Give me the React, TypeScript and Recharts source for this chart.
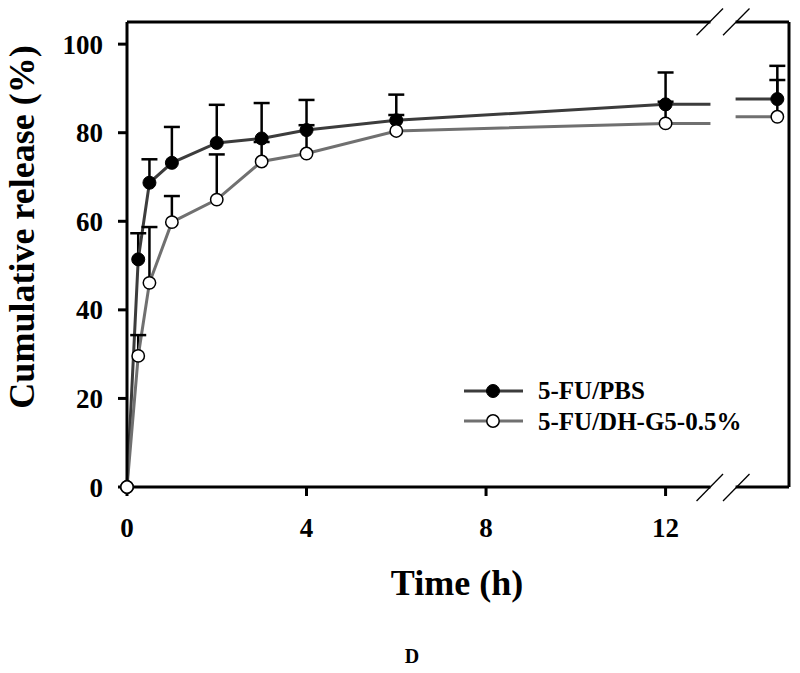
import React from 'react';
import { ComposedChart, Line, XAxis, YAxis, ReferenceLine, Label } from 'recharts';

const FONT = '"Liberation Serif", "Times New Roman", Times, serif';

// Sampling times (h) on the linear part of the axis
const hours = [0, 0.25, 0.5, 1, 2, 3, 4, 6, 12];
// 5-FU/PBS
const pbsMean = [0, 51.4, 68.7, 73.2, 77.7, 78.7, 80.6, 82.8, 86.4];
const pbsSD = [0, 5.9, 5.3, 8.1, 8.6, 8.0, 6.8, 5.8, 7.2];
// 5-FU/DH-G5-0.5%
const dhMean = [0, 29.6, 46.1, 59.8, 64.9, 73.5, 75.3, 80.4, 82.1];
const dhSD = [0, 4.7, 12.6, 5.9, 10.2, 4.4, 6.4, 3.6, 4.9];

// Final point, drawn after the axis break
const lastPos = 14.49;
const pbsLast = 87.6;
const pbsLastSD = 7.5;
const dhLast = 83.6;
const dhLastSD = 8.3;

// Axis break (in axis units)
const xMax = 14.75;
const yMax = 105;
const breakStart = 13.0;
const breakEnd = 13.56;
const slashX = [12.69, 13.28, 13.87];

const xTicks = [0, 4, 8, 12];
const yTicks = [0, 20, 40, 60, 80, 100];

const PBS_LINE = '#3c3c3c';
const DH_LINE = '#707070';

const mainData = hours.map((t, i) => ({ t, pbs: pbsMean[i], dh: dhMean[i] }));
const last = hours.length - 1;
const stubData = [
  { t: hours[last], pbs: pbsMean[last], dh: dhMean[last] },
  { t: breakStart, pbs: pbsMean[last], dh: dhMean[last] },
];
const afterData = [
  { t: breakEnd, pbs: pbsLast, dh: dhLast },
  { t: lastPos, pbs: pbsLast, dh: dhLast },
];
const lastData = [{ t: lastPos, pbs: pbsLast, dh: dhLast }];

// upward-only error bars: segment from mean to mean+SD, null separates bars
type EP = { t: number; v: number | null; cap?: boolean };
const errorSegments = (ts: number[], means: number[], sds: number[]): EP[] =>
  ts.flatMap((t, i) =>
    sds[i] > 0
      ? [
          { t, v: means[i] },
          { t, v: means[i] + sds[i], cap: true },
          { t, v: null },
        ]
      : []
  );
const pbsErrData = errorSegments([...hours, lastPos], [...pbsMean, pbsLast], [...pbsSD, pbsLastSD]);
const dhErrData = errorSegments([...hours, lastPos], [...dhMean, dhLast], [...dhSD, dhLastSD]);

const capDot = (props: any) => {
  const { cx, cy, payload, index } = props;
  if (!payload || !payload.cap || cx == null || cy == null) return <g key={`c${index}`} />;
  return <line key={`c${index}`} x1={cx - 8} x2={cx + 8} y1={cy} y2={cy} stroke="#000" strokeWidth={2.5} />;
};

const filledDot = { r: 6.5, fill: '#000', stroke: '#000', strokeWidth: 1 };
const openDot = { r: 6.2, fill: '#fff', stroke: '#000', strokeWidth: 1.5 };

const tickStyle = { fontSize: 27, fontWeight: 'bold' as const, fill: '#000', fontFamily: FONT };

const Extras = () => (
  <g fontFamily={FONT} fontWeight="bold" fill="#000">
    <text x={457} y={595} fontSize={36} textAnchor="middle">Time (h)</text>
    <text x={412} y={663} fontSize={20} textAnchor="middle">D</text>
    <text x={34} y={227} fontSize={36} textAnchor="middle" transform="rotate(-90 34 227)">
      Cumulative release (%)
    </text>
    <g>
      <line x1={464} y1={391} x2={523} y2={391} stroke={PBS_LINE} strokeWidth={3} />
      <circle cx={493} cy={391} r={6.5} fill="#000" stroke="#000" />
      <text x={538} y={399} fontSize={25}>5-FU/PBS</text>
      <line x1={464} y1={421} x2={523} y2={421} stroke={DH_LINE} strokeWidth={3} />
      <circle cx={493} cy={421} r={6.2} fill="#fff" stroke="#000" strokeWidth={1.5} />
      <text x={538} y={430} fontSize={25}>5-FU/DH-G5-0.5%</text>
    </g>
  </g>
);

const frame = { stroke: '#000', strokeWidth: 3 };
const slash = { stroke: '#000', strokeWidth: 1.3 };

export default function App() {
  return (
    <div style={{ position: 'absolute', left: 0, top: 0, background: '#fff' }}>
      <ComposedChart width={800} height={673} margin={{ top: 22, right: 11, bottom: 126, left: 0 }}>
        <XAxis
          type="number"
          dataKey="t"
          domain={[0, xMax]}
          ticks={xTicks}
          height={60}
          axisLine={false}
          tickLine={{ stroke: '#000', strokeWidth: 3 }}
          tickSize={9}
          tickMargin={22}
          tick={tickStyle}
        >
          <Label content={() => <Extras />} />
        </XAxis>
        <YAxis
          type="number"
          domain={[0, yMax]}
          ticks={yTicks}
          width={127}
          axisLine={{ stroke: '#000', strokeWidth: 3 }}
          tickLine={{ stroke: '#000', strokeWidth: 3 }}
          tickSize={9}
          tickMargin={15}
          tick={tickStyle}
        />
        {/* frame with axis break */}
        <ReferenceLine segment={[{ x: 0, y: 0 }, { x: breakStart, y: 0 }]} {...frame} ifOverflow="visible" />
        <ReferenceLine segment={[{ x: breakEnd, y: 0 }, { x: xMax, y: 0 }]} {...frame} ifOverflow="visible" />
        <ReferenceLine segment={[{ x: 0, y: yMax }, { x: breakStart, y: yMax }]} {...frame} ifOverflow="visible" />
        <ReferenceLine segment={[{ x: breakEnd, y: yMax }, { x: xMax, y: yMax }]} {...frame} ifOverflow="visible" />
        <ReferenceLine segment={[{ x: xMax, y: 0 }, { x: xMax, y: yMax }]} {...frame} ifOverflow="visible" />
        <ReferenceLine segment={[{ x: slashX[0], y: yMax - 3 }, { x: slashX[1], y: yMax + 3.06 }]} {...slash} ifOverflow="visible" />
        <ReferenceLine segment={[{ x: slashX[1], y: yMax - 3 }, { x: slashX[2], y: yMax + 3.06 }]} {...slash} ifOverflow="visible" />
        <ReferenceLine segment={[{ x: slashX[0], y: -3.16 }, { x: slashX[1], y: 2.93 }]} {...slash} ifOverflow="visible" />
        <ReferenceLine segment={[{ x: slashX[1], y: -3.16 }, { x: slashX[2], y: 2.93 }]} {...slash} ifOverflow="visible" />

        {/* 5-FU/PBS */}
        <Line data={pbsErrData} dataKey="v" stroke="#000" strokeWidth={2.5} dot={capDot} activeDot={false} legendType="none" isAnimationActive={false} />
        <Line data={stubData} dataKey="pbs" stroke={PBS_LINE} strokeWidth={3} dot={false} activeDot={false} isAnimationActive={false} />
        <Line data={afterData} dataKey="pbs" stroke={PBS_LINE} strokeWidth={3} dot={false} activeDot={false} isAnimationActive={false} />
        <Line data={mainData} dataKey="pbs" stroke={PBS_LINE} strokeWidth={3} dot={filledDot} activeDot={false} isAnimationActive={false} />
        <Line data={lastData} dataKey="pbs" stroke={PBS_LINE} strokeWidth={3} dot={filledDot} activeDot={false} isAnimationActive={false} />

        {/* 5-FU/DH-G5-0.5% */}
        <Line data={dhErrData} dataKey="v" stroke="#000" strokeWidth={2.5} dot={capDot} activeDot={false} legendType="none" isAnimationActive={false} />
        <Line data={stubData} dataKey="dh" stroke={DH_LINE} strokeWidth={3} dot={false} activeDot={false} isAnimationActive={false} />
        <Line data={afterData} dataKey="dh" stroke={DH_LINE} strokeWidth={3} dot={false} activeDot={false} isAnimationActive={false} />
        <Line data={mainData} dataKey="dh" stroke={DH_LINE} strokeWidth={3} dot={openDot} activeDot={false} isAnimationActive={false} />
        <Line data={lastData} dataKey="dh" stroke={DH_LINE} strokeWidth={3} dot={openDot} activeDot={false} isAnimationActive={false} />
      </ComposedChart>
    </div>
  );
}
